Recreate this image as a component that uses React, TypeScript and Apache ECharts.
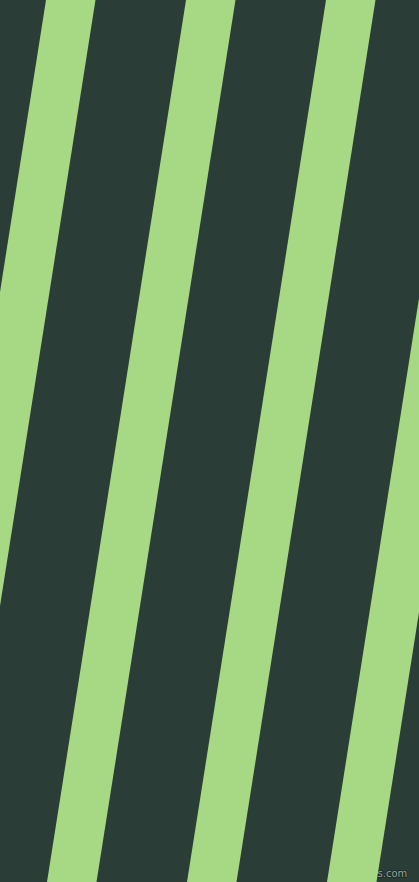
import React, { useEffect, useRef } from 'react'
import * as echarts from 'echarts'

// left edge of each stripe where it meets the top of the picture
const stripeTopLeft = [46, 186, 326, 466]
// how far each stripe drifts left by the time it reaches the bottom
const stripeShift = [139, 139, 139, 139]
const stripeWidth = [49.5, 49.5, 49.5, 49.5]

const W = 419
const H = 882

export default function App() {
  const ref = useRef<HTMLDivElement | null>(null)

  useEffect(() => {
    if (!ref.current) return
    document.body.style.margin = '0'
    document.body.style.overflow = 'hidden'
    const chart = echarts.init(ref.current, undefined, { renderer: 'svg' })

    const data = stripeTopLeft.map((x, i) => [x, stripeWidth[i], stripeShift[i]])

    const opt: echarts.EChartsOption = {
      animation: false,
      backgroundColor: '#2a3d36',
      grid: { left: 0, right: 0, top: 0, bottom: 0 },
      xAxis: { type: 'value', min: 0, max: W, show: false },
      yAxis: { type: 'value', min: 0, max: H, inverse: true, show: false },
      series: [{
        type: 'custom',
        clip: true,
        data,
        renderItem: (params: any, api: any) => {
          const x0 = api.value(0)
          const w = api.value(1)
          const s = api.value(2)
          const pts = [
            api.coord([x0, 0]),
            api.coord([x0 + w, 0]),
            api.coord([x0 + w - s, H]),
            api.coord([x0 - s, H])
          ]
          return {
            type: 'polygon',
            shape: { points: pts },
            style: { fill: '#a7d884' }
          }
        }
      }],
      graphic: [{
        type: 'text',
        right: 11,
        bottom: 3,
        style: {
          text: 'pixlis.com',
          fill: '#98a39b',
          stroke: '#1a2823',
          lineWidth: 1.5,
          font: '10px "DejaVu Sans"'
        }
      }]
    }

    chart.setOption(opt)
    const onResize = () => chart.resize()
    window.addEventListener('resize', onResize)
    return () => { window.removeEventListener('resize', onResize); chart.dispose() }
  }, [])

  return (
    <div
      ref={ref}
      style={{ position: 'fixed', left: 0, top: 0, width: W, height: H }}
    />
  )
}
